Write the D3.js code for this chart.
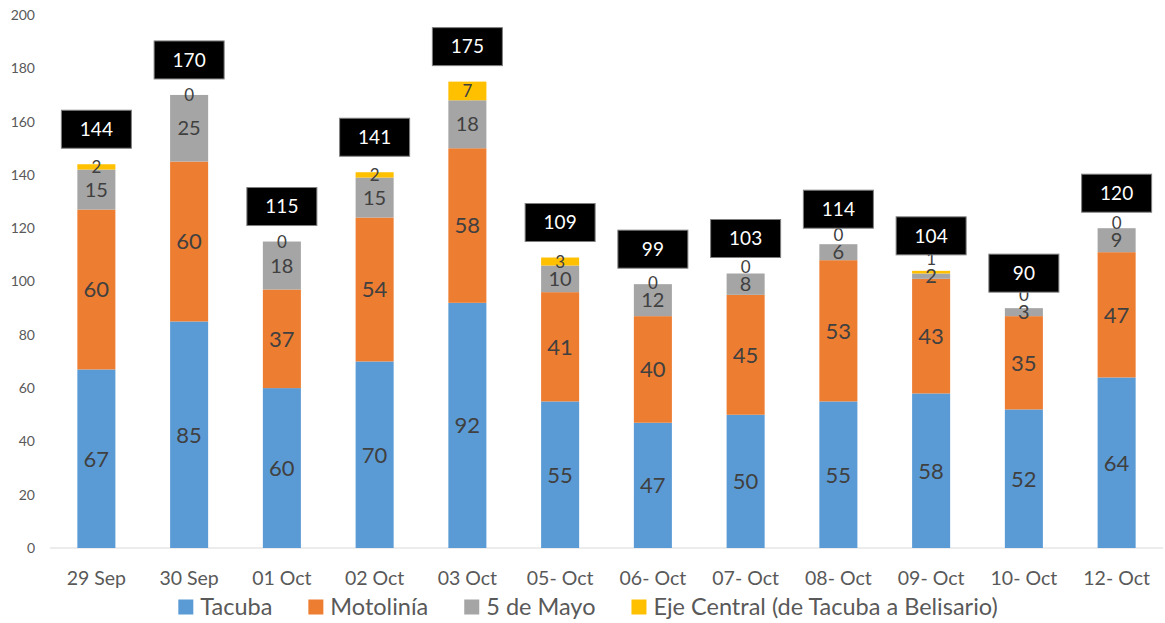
<!DOCTYPE html>
<html>
<head>
<meta charset="UTF-8">
<title>Stacked bars</title>
<script src="https://cdnjs.cloudflare.com/ajax/libs/d3/7.8.5/d3.min.js"></script>
<style>
  body { margin: 0; background: #fff; font-family: Lato, "Open Sans", sans-serif; }
  .ytick { font-size: 14px; fill: #595959; text-anchor: end; }
  .xtick { font-size: 19.5px; fill: #595959; text-anchor: middle; }
  .seg-label { fill: #404040; text-anchor: middle; }
  .total-box { fill: #000; stroke: #7f7f7f; stroke-width: 1; }
  .total-text { fill: #fff; font-size: 19px; text-anchor: middle; }
  .legend-text { font-size: 23.5px; fill: #595959; }
</style>
</head>
<body>
<div id="chart"></div>
<script>
const categories = ["29 Sep", "30 Sep", "01 Oct", "02 Oct", "03 Oct", "05- Oct", "06- Oct", "07- Oct", "08- Oct", "09- Oct", "10- Oct", "12- Oct"];
const seriesNames = ["Tacuba", "Motolinía", "5 de Mayo", "Eje Central (de Tacuba a Belisario)"];
const tacuba     = [67, 85, 60, 70, 92, 55, 47, 50, 55, 58, 52, 64];
const motolinia  = [60, 60, 37, 54, 58, 41, 40, 45, 53, 43, 35, 47];
const cincoMayo  = [15, 25, 18, 15, 18, 10, 12, 8, 6, 2, 3, 9];
const ejeCentral = [2, 0, 0, 2, 7, 3, 0, 0, 0, 1, 0, 0];
const totals     = [144, 170, 115, 141, 175, 109, 99, 103, 114, 104, 90, 120];
const yTicks = [0, 20, 40, 60, 80, 100, 120, 140, 160, 180, 200];

const colors = ["#5b9bd5", "#ed7d31", "#a5a5a5", "#ffc000"];
const labelSizes = [22, 22, 20, 17];

const W = 1165, H = 623;
const svg = d3.select("#chart").append("svg").attr("width", W).attr("height", H);

const x = d3.scaleBand().domain(categories).range([50, 1163])
  .paddingInner(0.59).paddingOuter(0.295);
const y = d3.scaleLinear().domain([0, 200]).range([548, 15]);

const rows = categories.map((c, i) => ({
  cat: c,
  s0: tacuba[i], s1: motolinia[i], s2: cincoMayo[i], s3: ejeCentral[i]
}));
const layers = d3.stack().keys(["s0", "s1", "s2", "s3"])(rows);

// y tick labels (no gridlines in the original)
svg.append("g").selectAll("text").data(yTicks).join("text")
  .attr("class", "ytick")
  .attr("x", 35).attr("y", d => y(d)).attr("dy", "0.35em")
  .text(d => d);

// baseline
svg.append("line")
  .attr("x1", 50).attr("x2", 1163)
  .attr("y1", y(0)).attr("y2", y(0))
  .attr("stroke", "#d9d9d9").attr("stroke-width", 1);

// bars
const g = svg.append("g");
layers.forEach((layer, k) => {
  g.append("g").attr("fill", colors[k]).selectAll("rect").data(layer).join("rect")
    .attr("x", d => x(d.data.cat))
    .attr("width", x.bandwidth())
    .attr("y", d => y(d[1]))
    .attr("height", d => y(d[0]) - y(d[1]));
});

// segment labels; the top (Eje Central) label is pushed up when it would sit on the 5 de Mayo one
const mid = d => y((d[0] + d[1]) / 2);
layers.forEach((layer, k) => {
  g.append("g").selectAll("text").data(layer).join("text")
    .attr("class", "seg-label")
    .style("font-size", labelSizes[k] + "px")
    .attr("x", d => x(d.data.cat) + x.bandwidth() / 2)
    .attr("y", (d, i) => k === 3 ? Math.min(mid(d), mid(layers[2][i]) - 17) : mid(d))
    .attr("dy", "0.36em")
    .text(d => d[1] - d[0]);
});

// total boxes
const boxW = 70, boxH = 38, boxGap = 35;
const tg = svg.append("g").selectAll("g").data(categories).join("g")
  .attr("transform", (c, i) => `translate(${x(c) + x.bandwidth() / 2},${y(totals[i]) - boxGap})`);
tg.append("rect").attr("class", "total-box")
  .attr("x", -boxW / 2).attr("y", -boxH / 2).attr("width", boxW).attr("height", boxH);
tg.append("text").attr("class", "total-text").attr("dy", "0.36em")
  .text((c, i) => totals[i]);

// x labels
svg.append("g").selectAll("text").data(categories).join("text")
  .attr("class", "xtick")
  .attr("x", d => x(d) + x.bandwidth() / 2).attr("y", 578).attr("dy", "0.35em")
  .text(d => d);

// legend
const leg = svg.append("g");
let lx = 0;
seriesNames.forEach((name, k) => {
  const item = leg.append("g").attr("transform", `translate(${lx},0)`);
  item.append("rect").attr("x", 0).attr("y", -7.5).attr("width", 15).attr("height", 15).attr("fill", colors[k]);
  const t = item.append("text").attr("class", "legend-text").attr("x", 22).attr("dy", "0.35em").text(name);
  lx += 22 + t.node().getComputedTextLength() + 36;
});
lx -= 36;
leg.attr("transform", `translate(${588 - lx / 2},607)`);
</script>
</body>
</html>
